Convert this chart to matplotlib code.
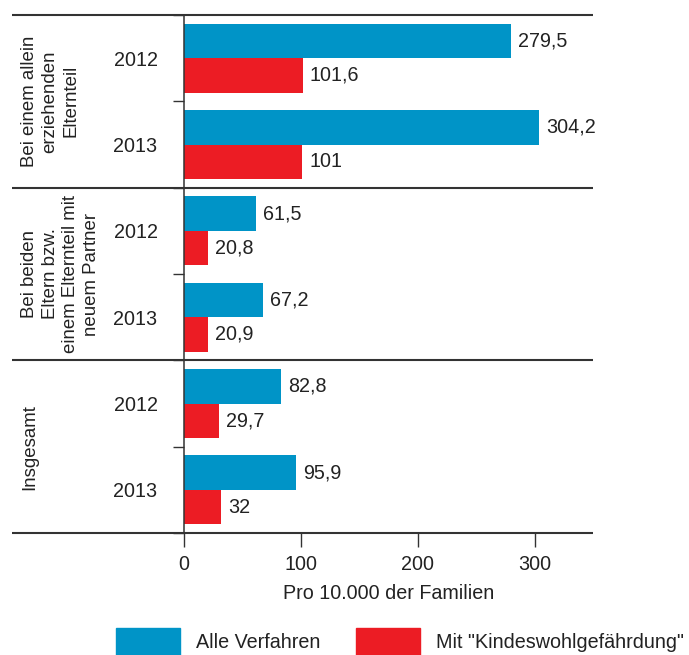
import matplotlib
matplotlib.use("Agg")
import matplotlib.pyplot as plt
import matplotlib.transforms as mtransforms
from matplotlib.patches import Rectangle

plt.rcParams['font.family'] = ['Liberation Sans', 'DejaVu Sans']

groups = ["Bei einem allein\nerziehenden\nElternteil",
          "Bei beiden\nEltern bzw.\neinem Elternteil mit\nneuem Partner",
          "Insgesamt"]
years = ["2012", "2013"]
alle = [279.5, 304.2, 61.5, 67.2, 82.8, 95.9]
kwg = [101.6, 101, 20.8, 20.9, 29.7, 32]
series_names = ["Alle Verfahren", 'Mit "Kindeswohlgefährdung"']
xticks = [0, 100, 200, 300]
xlabel = "Pro 10.000 der Familien"

BLUE = "#0094C7"
RED = "#EC1C24"
LINE = "#333333"
TXT = "#222222"

W, H = 689, 655
fig = plt.figure(figsize=(W / 100, H / 100), dpi=100)
ax_l, ax_r, ax_t, ax_b = 184, 593, 15, 533
ax = fig.add_axes([ax_l / W, (H - ax_b) / H, (ax_r - ax_l) / W, (ax_b - ax_t) / H])

n = len(alle)
centers = [i + 0.5 for i in range(n)]
bh = 0.4
ax.barh([c - bh / 2 for c in centers], alle, height=bh, color=BLUE, zorder=2)
ax.barh([c + bh / 2 for c in centers], kwg, height=bh, color=RED, zorder=2)

def fmt(v):
    return f"{v:g}".replace(".", ",")

for c, a, k in zip(centers, alle, kwg):
    ax.text(a + 6, c - bh / 2, fmt(a), va="center", ha="left", fontsize=14.2, color=TXT)
    ax.text(k + 6, c + bh / 2, fmt(k), va="center", ha="left", fontsize=14.2, color=TXT)

ax.set_xlim(0, 350)
ax.set_ylim(n, 0)

for s in ["top", "right", "bottom"]:
    ax.spines[s].set_visible(False)
ax.spines["left"].set_color(LINE)
ax.spines["left"].set_linewidth(1.1)

# year labels as major ticks, boundaries as minor ticks
ax.set_yticks(centers)
ax.set_yticklabels(years * len(groups), fontsize=14.2, color=TXT)
ax.tick_params(axis="y", which="major", length=0, pad=19)
ax.set_yticks(list(range(0, n + 1)), minor=True)
ax.tick_params(axis="y", which="minor", length=8, width=1.0, color=LINE)

ax.set_xticks(xticks)
ax.set_xticklabels([str(t) for t in xticks], fontsize=14.2, color=TXT)
ax.tick_params(axis="x", length=10, width=1.0, color=LINE, pad=6)
ax.set_xlabel(xlabel, fontsize=14.2, color=TXT, labelpad=7)

# group separator lines spanning into the label area
trans = mtransforms.blended_transform_factory(ax.transAxes, ax.transData)
x_left = (12 - ax_l) / (ax_r - ax_l)
for yb in range(0, n + 1, 2):
    ax.plot([x_left, 1.0], [yb, yb], transform=trans, color=LINE, lw=1.5,
            clip_on=False, zorder=3, solid_capstyle="butt")

# group labels
x_g = (21 - ax_l) / (ax_r - ax_l)
for gi, g in enumerate(groups):
    ax.text(x_g, gi * 2 + 1, g, transform=trans, rotation=90, ha="left", va="center",
            multialignment="center", fontsize=13.4, color=TXT, linespacing=1.27)

# legend
def px_rect(x0, y0, w, h, color):
    fig.patches.append(Rectangle((x0 / W, (H - y0 - h) / H), w / W, h / H,
                                 transform=fig.transFigure, color=color))

px_rect(116, 628, 64, 40, BLUE)
px_rect(356, 628, 64, 40, RED)
fig.text(196 / W, 1 - 643 / H, series_names[0], fontsize=14.2, color=TXT, va="center", ha="left")
fig.text(436 / W, 1 - 643 / H, series_names[1], fontsize=14.2, color=TXT, va="center", ha="left")

fig.savefig("out.png", dpi=100)
